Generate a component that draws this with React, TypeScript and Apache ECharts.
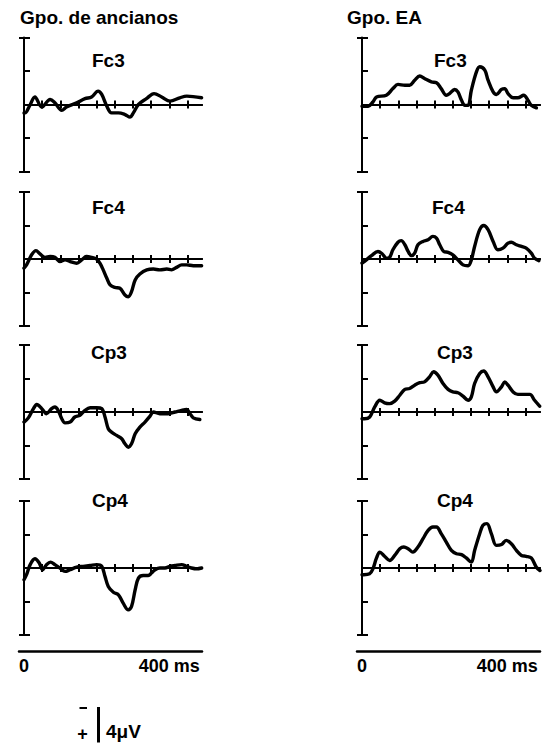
import React, { useEffect, useRef } from "react";
import * as echarts from "echarts";

// ---------- data (time in ms, amplitude in µV; negative plotted upward) ----------
const groups = ["Gpo. de ancianos", "Gpo. EA"];
const electrodes = ["Fc3", "Fc4", "Cp3", "Cp4"];
const timeTicks = [50, 100, 150, 200, 250, 300, 350, 400, 450];
const timeLabels = [0, 400];
const ampRange = [-8, 8];
const ampStep = 4;
const scaleText = "4\u03bcV";

const ancFc3 = [[0,1.0],[3,1.0],[15,0.2],[30,-0.9],[49,0.3],[72,-0.6],[85,-0.2],[104,0.7],[117,0.3],[145,-0.2],[168,-0.7],[186,-0.9],[204,-1.6],[214,-1.2],[228,0.2],[241,1.0],[260,1.0],[278,1.2],[292,1.5],[301,1.0],[315,0.0],[337,-0.7],[358,-1.3],[379,-0.9],[402,-0.4],[429,-0.8],[448,-1.0],[489,-0.8]];
const ancFc4 = [[0,1.1],[7,0.7],[21,-0.5],[33,-1.0],[44,-0.6],[58,-0.2],[72,-0.3],[85,-0.2],[99,0.3],[113,0.1],[127,0.3],[145,0.5],[159,0.1],[172,-0.3],[186,-0.2],[200,0.0],[209,0.5],[218,1.3],[228,2.3],[237,3.1],[250,3.4],[264,3.5],[278,4.3],[287,4.5],[296,3.9],[306,2.5],[319,1.8],[338,1.3],[356,1.2],[374,1.3],[393,1.2],[406,1.3],[420,1.0],[434,0.7],[448,0.7],[466,0.8],[489,0.8]];
const ancCp3 = [[0,1.2],[12,0.7],[26,-0.4],[35,-0.9],[49,-0.4],[62,0.2],[76,-0.4],[85,-0.6],[94,-0.2],[104,0.8],[113,1.3],[127,1.2],[140,0.6],[154,0.4],[168,-0.2],[182,-0.5],[200,-0.5],[214,-0.4],[223,0.6],[232,2.0],[241,2.4],[255,2.8],[269,3.2],[278,3.8],[287,4.2],[296,3.8],[306,2.6],[319,1.8],[333,1.2],[347,0.5],[356,0.0],[374,0.2],[397,0.2],[416,0.0],[434,-0.2],[448,-0.3],[457,0.2],[466,0.7],[484,0.9]];
const ancCp4 = [[0,1.4],[7,0.8],[17,-0.4],[30,-1.1],[42,-0.6],[51,0.2],[62,-0.4],[73,-0.7],[85,-0.4],[99,0.0],[113,0.4],[127,0.2],[145,-0.1],[163,-0.2],[182,-0.3],[200,-0.4],[214,-0.2],[223,1.0],[232,2.2],[246,2.9],[260,3.2],[273,4.2],[287,5.0],[296,4.6],[306,2.6],[315,1.2],[328,0.9],[342,0.9],[351,0.6],[361,0.2],[374,0.0],[388,0.0],[402,-0.2],[416,-0.3],[434,-0.4],[448,-0.2],[461,0.0],[475,0.1],[489,0.0]];

const eaFc3 = [[0,0.2],[17,0.2],[30,-0.3],[40,-0.9],[67,-1.1],[85,-1.9],[99,-2.4],[118,-2.3],[131,-2.3],[145,-2.9],[159,-3.4],[172,-3.1],[191,-2.7],[205,-2.6],[218,-1.9],[232,-1.1],[241,-1.3],[255,-1.8],[264,-1.5],[274,-0.5],[283,0.1],[292,0.1],[301,-1.7],[315,-3.9],[324,-4.5],[338,-4.1],[347,-2.9],[361,-1.5],[370,-1.2],[384,-1.8],[393,-1.9],[402,-1.3],[416,-0.8],[429,-0.8],[445,-1.1],[457,-0.5],[466,0.1],[480,0.4]];
const eaFc4 = [[0,0.5],[12,0.1],[26,-0.4],[44,-0.9],[56,-0.6],[67,-0.1],[76,-0.2],[85,-1.1],[99,-2.0],[108,-2.2],[118,-1.7],[127,-0.9],[136,-0.4],[145,-0.7],[154,-1.7],[168,-2.1],[182,-2.3],[195,-2.7],[205,-2.5],[214,-1.7],[225,-0.9],[237,-0.8],[250,-0.5],[264,0.1],[278,0.7],[292,0.8],[301,0.1],[310,-1.5],[324,-3.5],[335,-4.0],[347,-3.5],[361,-2.1],[374,-1.1],[388,-1.3],[402,-1.9],[411,-2.0],[425,-1.7],[439,-1.5],[452,-1.3],[466,-0.7],[475,-0.1],[487,0.2]];
const eaCp3 = [[0,0.8],[7,0.8],[21,0.6],[35,-0.6],[49,-1.4],[62,-1.1],[76,-1.0],[90,-1.3],[104,-2.0],[118,-2.7],[131,-2.8],[145,-3.2],[159,-3.5],[172,-3.6],[186,-4.2],[197,-4.8],[209,-4.4],[223,-3.4],[237,-2.7],[250,-2.4],[264,-2.3],[278,-1.9],[292,-1.4],[301,-1.8],[310,-3.4],[324,-4.6],[335,-4.9],[347,-4.2],[361,-3.0],[370,-2.4],[384,-3.0],[393,-3.6],[402,-3.2],[416,-2.4],[429,-2.1],[443,-2.1],[462,-2.1],[475,-1.4],[489,-0.7]];
const eaCp4 = [[0,0.8],[5,0.8],[21,0.7],[30,0.1],[40,-1.2],[49,-1.9],[62,-1.4],[76,-0.9],[90,-1.5],[104,-2.3],[115,-2.5],[127,-2.3],[140,-1.9],[154,-2.5],[168,-3.5],[182,-4.5],[195,-4.9],[205,-4.9],[218,-4.1],[232,-3.1],[246,-2.1],[260,-1.7],[274,-1.6],[287,-1.2],[301,-0.7],[310,-2.1],[324,-4.1],[333,-5.1],[344,-5.3],[356,-4.1],[370,-2.7],[384,-2.8],[397,-3.3],[411,-2.9],[425,-2.1],[439,-1.5],[452,-1.4],[466,-1.2],[480,-0.1],[490,0.3]];

const panelData = [
  [ancFc3, ancFc4, ancCp3, ancCp4],
  [eaFc3, eaFc4, eaCp3, eaCp4],
];

// ---------- layout ----------
const FONT = "Liberation Sans";
const colLeft = [24, 362];
const rowTop = [37.5, 192, 345, 501];
const panelW = 178;
const panelH = 134;
const tMax = 490;
const bottomAxisY = 651;
const labelLeft = [
  [92, 92, 91, 92],
  [434, 432, 437, 437],
];
const labelTop = [51, 198, 343, 491];

function buildOption() {
  const grid: any[] = [];
  const xAxis: any[] = [];
  const yAxis: any[] = [];
  const series: any[] = [];
  const title: any[] = [];
  const axisLine = { show: true, onZero: true, lineStyle: { color: "#000", width: 2 } };
  const textStyle = { fontFamily: FONT, fontSize: 19, fontWeight: "bold", color: "#000" };

  groups.forEach((g, c) => {
    title.push({
      text: g,
      left: c === 0 ? 20 : 347,
      top: 8,
      padding: 0,
      textStyle,
    });
    electrodes.forEach((el, r) => {
      const gi = grid.length;
      grid.push({ left: colLeft[c], top: rowTop[r], width: panelW, height: panelH, containLabel: false });
      title.push({
        text: el,
        left: labelLeft[c][r],
        top: labelTop[r],
        padding: 0,
        textStyle,
      });
      // zero line with ticks pointing down
      xAxis.push({
        type: "value", gridIndex: gi, min: 0, max: tMax, position: "bottom",
        axisLine, splitLine: { show: false },
        axisTick: { show: true, inside: false, length: 4, customValues: timeTicks, lineStyle: { color: "#000", width: 2 } },
        axisLabel: { show: false },
      });
      // zero line with ticks pointing up
      xAxis.push({
        type: "value", gridIndex: gi, min: 0, max: tMax, position: "top",
        axisLine, splitLine: { show: false },
        axisTick: { show: true, inside: false, length: 4, customValues: timeTicks, lineStyle: { color: "#000", width: 2 } },
        axisLabel: { show: false },
      });
      // amplitude axis, ticks inward
      yAxis.push({
        type: "value", gridIndex: gi, min: ampRange[0], max: ampRange[1], interval: ampStep, inverse: true,
        position: "left",
        axisLine: { show: true, onZero: false, lineStyle: { color: "#000", width: 2 } },
        axisTick: { show: true, inside: true, length: 6, lineStyle: { color: "#000", width: 2 } },
        axisLabel: { show: false }, splitLine: { show: false },
      });
      // end caps, ticks outward at both ends
      yAxis.push({
        type: "value", gridIndex: gi, min: ampRange[0], max: ampRange[1], interval: ampRange[1] - ampRange[0], inverse: true,
        position: "left",
        axisLine: { show: false, onZero: false },
        axisTick: { show: true, inside: false, length: 5, lineStyle: { color: "#000", width: 2 } },
        axisLabel: { show: false }, splitLine: { show: false },
      });
      series.push({
        type: "line",
        name: `${g} ${el}`,
        xAxisIndex: 2 * gi,
        yAxisIndex: 2 * gi,
        data: panelData[c][r],
        smooth: 0.35,
        showSymbol: false,
        symbol: "none",
        clip: false,
        lineStyle: { color: "#000", width: 3.4, cap: "round", join: "round" },
      });
    });
  });

  // bottom time axes
  groups.forEach((g, c) => {
    const gi = grid.length;
    const pad = 5;
    grid.push({ left: colLeft[c] - pad, top: bottomAxisY - 1, width: panelW + pad, height: 1 });
    xAxis.push({
      type: "value", gridIndex: gi, min: -pad * (tMax / panelW), max: tMax, position: "bottom",
      axisLine: { show: true, onZero: false, lineStyle: { color: "#000", width: 2.5 } },
      axisTick: { show: false },
      splitLine: { show: false },
      axisLabel: {
        show: true, customValues: timeLabels, margin: 6,
        formatter: (v: number) => (v === 0 ? "0" : `${v} ms`),
        fontFamily: FONT, fontSize: 18, fontWeight: "bold", color: "#000",
      },
    });
    yAxis.push({ type: "value", gridIndex: gi, min: 0, max: 1, show: false });
  });

  // scale bar (length = one amplitude step)
  const barLen = (panelH * ampStep) / (ampRange[1] - ampRange[0]);
  const barX = 98.5;
  const barTop = 707;
  const graphic = [
    { type: "line", shape: { x1: barX, y1: barTop, x2: barX, y2: barTop + barLen + 2 }, style: { stroke: "#000", lineWidth: 3 } },
    { type: "line", shape: { x1: 79.5, y1: 708, x2: 87, y2: 708 }, style: { stroke: "#000", lineWidth: 2 } },
    { type: "text", x: 82.5, y: 734, style: { text: "+", fontFamily: FONT, fontSize: 18, fontWeight: "bold", fill: "#000", align: "center", verticalAlign: "middle" } },
    { type: "text", x: 106, y: 731, style: { text: scaleText, fontFamily: FONT, fontSize: 19, fontWeight: "bold", fill: "#000", align: "left", verticalAlign: "middle" } },
  ];

  return {
    animation: false,
    backgroundColor: "#fff",
    title,
    grid,
    xAxis,
    yAxis,
    series,
    graphic,
  };
}

export default function App() {
  const ref = useRef<HTMLDivElement>(null);
  useEffect(() => {
    if (!ref.current) return;
    const chart = echarts.init(ref.current, null, { renderer: "svg" });
    chart.setOption(buildOption() as any);
    return () => chart.dispose();
  }, []);
  return (
    <div
      ref={ref}
      style={{ position: "fixed", left: 0, top: 0, width: 551, height: 744, background: "#fff" }}
    />
  );
}
